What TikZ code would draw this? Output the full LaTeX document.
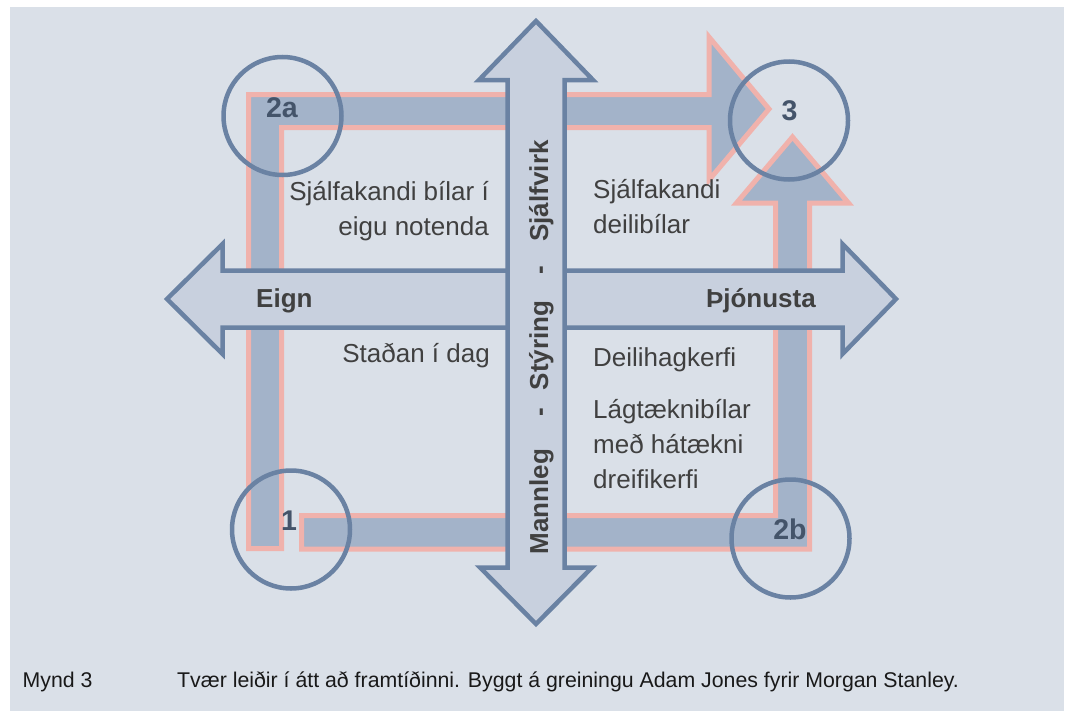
\documentclass[tikz,border=0pt]{standalone}
\usepackage{fontspec}
\setmainfont{Liberation Sans}
\definecolor{bgcol}{HTML}{DAE0E8}
\definecolor{arrfill}{HTML}{C8D0DE}
\definecolor{arrline}{HTML}{6A82A3}
\definecolor{bandfill}{HTML}{A3B3C9}
\definecolor{bandline}{HTML}{F0B2AC}
\definecolor{lblcol}{HTML}{44546A}
\definecolor{txtcol}{HTML}{404040}
\tikzset{
  band/.style={fill=bandfill, draw=bandline, line width=5pt, line join=miter},
  dblarrow/.style={fill=arrfill, draw=arrline, line width=4.5pt, line join=miter},
  ring/.style={draw=arrline, line width=4.5pt},
  numlbl/.style={text=lblcol, font=\fontsize{28.5}{30}\selectfont\bfseries, inner sep=0pt},
  body/.style={text=txtcol, font=\fontsize{26}{35}\selectfont, inner sep=0pt, anchor=base},
  axislbl/.style={text=txtcol, font=\fontsize{26}{30}\selectfont\bfseries, inner sep=0pt, anchor=base},
  vlbl/.style={text=txtcol, font=\fontsize{26}{30}\selectfont\bfseries, inner sep=0pt, anchor=base, rotate=90},
  captxt/.style={text=black!90, font=\fontsize{21.3}{25}\selectfont, inner sep=0pt, anchor=base west}
}
\begin{document}
\begin{tikzpicture}[x=1pt,y=-1pt]
\useasboundingbox (0,0) rectangle (1074,720);
\fill[white] (0,0) rectangle (1074,720);
\fill[bgcol] (10,7) rectangle (1064,711);

% path 1 -> 2a -> 3
\draw[band] (248.5,548.5) -- (248.5,94.5) -- (709,94.5) -- (709,37) -- (769,109)
  -- (709,180) -- (709,127.5) -- (281.5,127.5) -- (281.5,548.5) -- cycle;
% path 1 -> 2b -> 3
\draw[band] (301.5,515.5) -- (775.5,515.5) -- (775.5,203) -- (736.5,203) -- (792.5,137)
  -- (848.5,203) -- (809.5,203) -- (809.5,549) -- (301.5,549) -- cycle;

% horizontal double arrow
\draw[dblarrow] (167,299) -- (222.5,244) -- (222.5,270.5) -- (842.5,270.5) -- (842.5,244)
  -- (896,299) -- (842.5,354) -- (842.5,327.5) -- (222.5,327.5) -- (222.5,354) -- cycle;
% vertical double arrow
\draw[dblarrow] (536,21) -- (593,80) -- (564.5,80) -- (564.5,567.5) -- (592,567.5)
  -- (536,624) -- (480,567.5) -- (507.5,567.5) -- (507.5,80) -- (479,80) -- cycle;

% circles
\draw[ring] (282.5,116) circle (59);
\draw[ring] (789,120.5) circle (59);
\draw[ring] (291,529.5) circle (59);
\draw[ring] (790.5,538.5) circle (59);

% circle labels
\node[numlbl] (l2a) at (282,108) {2a};
\node[numlbl] (l3) at (789.5,111) {3};
\node[numlbl] (l1) at (289,520.5) {1};
\node[numlbl] (l2b) at (790,529.5) {2b};

% axis labels
\node[axislbl, anchor=base west] (eign) at (256,307) {Eign};
\node[axislbl, anchor=base east] (thjon) at (816,307) {Þjónusta};

% vertical axis label
\node[vlbl] (vm) at (548,501.5) {Mannleg};
\node[vlbl] (vd1) at (548,412.5) {-};
\node[vlbl] (vs) at (548,345.5) {Stýring};
\node[vlbl] (vd2) at (548,270) {-};
\node[vlbl] (vsj) at (548,191) {Sjálfvirk};

% quadrant texts
\node[body, anchor=base east] (q1a) at (489,200) {Sjálfakandi bílar í};
\node[body, anchor=base east] (q1b) at (489,235) {eigu notenda};
\node[body, anchor=base west] (q2a) at (593,198) {Sjálfakandi};
\node[body, anchor=base west] (q2b) at (593,233) {deilibílar};
\node[body, anchor=base east] (q3) at (490,362) {Staðan í dag};
\node[body, anchor=base west] (q4a) at (593,366) {Deilihagkerfi};
\node[body, anchor=base west] (q4b) at (593,418) {Lágtæknibílar};
\node[body, anchor=base west] (q4c) at (593,453) {með hátækni};
\node[body, anchor=base west] (q4d) at (593,488) {dreifikerfi};

% caption
\node[captxt] (capa) at (22.5,687) {Mynd 3};
\node[captxt] (capb) at (177,687) {Tvær leiðir í átt að framtíðinni. Byggt á greiningu Adam Jones fyrir Morgan Stanley.};
\end{tikzpicture}
\end{document}
